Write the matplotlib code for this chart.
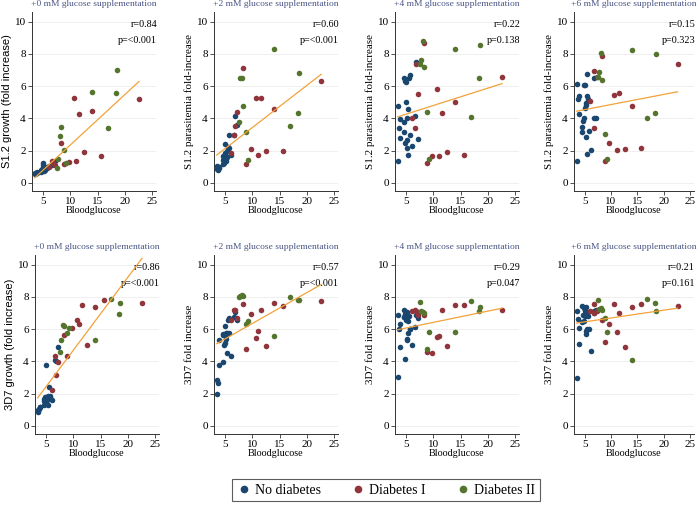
import numpy as np
import matplotlib
matplotlib.use('Agg')
import matplotlib.pyplot as plt
from matplotlib.lines import Line2D

plt.rcParams['font.family'] = 'Liberation Serif'

# blood glucose (mM) per participant, by group
bg_none = [3.5, 3.6, 3.75, 3.9, 4.0, 4.6, 4.6, 4.7, 4.8, 4.9, 5.1, 5.1,
           5.2, 5.2, 5.25, 5.4, 5.4, 5.5, 5.7, 5.8, 6.2, 6.7, 6.8, 7.2]
bg_t1 = [6.1, 6.7, 6.8, 7.3, 8.3, 8.8, 9.7, 10.6, 11.1, 11.6, 12.6, 14.0, 15.6, 22.6]
bg_t2 = [7.5, 7.8, 8.2, 8.3, 8.8, 9.3, 13.9, 16.9, 18.3, 18.6]

# S1.2 fold increase, +0/+2/+4/+6 mM
s12_none = [
    [0.55, 0.6, 0.6, 0.62, 0.65, 0.7, 0.75, 0.8, 0.85, 0.8, 1.25, 1.1, 0.9, 0.75, 0.95, 0.8, 0.85, 0.9, 0.95, 1.0, 1.05, 1.1, 1.3, 1.35],
    [0.85, 1.05, 0.8, 0.9, 1.0, 1.15, 1.4, 1.65, 1.55, 1.25, 2.4, 1.85, 1.5, 1.65, 1.35, 2.0, 1.6, 2.25, 2.95, 2.15, 1.75, 3.0, 4.15, 3.6],
    [4.8, 1.37, 3.4, 3.95, 2.8, 3.8, 3.15, 6.5, 6.3, 2.45, 6.25, 5.0, 4.0, 2.15, 2.65, 1.75, 4.6, 6.5, 6.7, 3.0, 2.3, 4.15, 7.5, 2.75],
    [6.15, 1.35, 5.2, 4.3, 5.4, 3.15, 3.45, 3.85, 4.05, 6.05, 6.1, 4.65, 4.85, 4.95, 2.85, 5.4, 1.8, 6.75, 5.2, 3.2, 2.05, 4.0, 6.5, 4.0],
]
s12_t1 = [
    [1.0, 1.35, 1.25, 1.1, 2.5, 1.15, 1.3, 5.25, 1.35, 4.3, 1.9, 4.45, 1.65, 5.2],
    [1.85, 2.95, 3.5, 4.4, 7.15, 1.2, 2.1, 5.25, 1.75, 5.25, 1.95, 4.6, 2.0, 6.3],
    [4.05, 3.4, 7.35, 5.5, 8.7, 1.25, 1.65, 5.85, 1.65, 4.35, 1.9, 5.05, 1.75, 6.55],
    [5.1, 3.4, 6.95, 6.6, 7.9, 1.35, 2.45, 5.45, 2.05, 5.6, 2.1, 4.8, 2.15, 7.4],
]
s12_t2 = [
    [0.95, 1.5, 2.9, 3.45, 2.05, 1.25, 5.65, 3.4, 5.55, 7.0],
    [3.75, 6.5, 6.5, 4.8, 3.15, 1.4, 8.3, 3.5, 4.35, 6.8],
    [7.35, 7.65, 8.8, 7.2, 4.4, 1.5, 8.3, 4.1, 6.5, 8.55],
    [6.6, 6.85, 8.05, 6.4, 3.05, 1.5, 8.25, 4.0, 4.35, 8.0],
]

# 3D7 fold increase, +0/+2/+4/+6 mM
d37_none = [
    [1.0, 0.85, 1.05, 1.2, 1.15, 1.3, 1.55, 1.65, 1.5, 1.8, 3.75, 1.4, 1.7, 1.6, 1.75, 1.3, 1.85, 2.4, 1.85, 1.8, 1.6, 4.1, 4.05, 4.9],
    [2.85, 2.0, 2.65, 3.8, 5.3, 3.95, 5.65, 5.7, 5.65, 5.0, 6.2, 5.15, 5.6, 5.4, 5.75, 4.5, 5.75, 6.6, 6.7, 5.75, 4.35, 6.75, 7.05, 6.6],
    [3.05, 6.9, 6.0, 6.3, 4.9, 7.2, 6.75, 6.75, 4.15, 6.95, 6.6, 6.9, 5.4, 7.05, 5.3, 5.75, 6.5, 6.8, 6.0, 6.0, 5.0, 6.15, 6.85, 6.7],
    [3.0, 7.15, 6.65, 6.05, 5.1, 7.45, 6.45, 6.85, 7.3, 6.5, 7.1, 6.8, 5.9, 7.35, 5.7, 7.05, 6.9, 6.0, 6.8, 6.0, 4.65, 7.1, 7.0, 7.2],
]
d37_t1 = [
    [2.25, 4.35, 3.15, 3.95, 5.65, 4.35, 6.05, 6.6, 6.3, 7.5, 5.05, 7.35, 7.8, 7.6],
    [6.6, 7.2, 7.2, 6.7, 7.55, 4.75, 6.95, 5.45, 5.9, 7.2, 4.95, 7.65, 7.45, 7.75],
    [7.1, 7.2, 7.1, 6.9, 6.85, 4.6, 4.5, 5.5, 5.6, 7.2, 4.95, 7.5, 7.5, 7.2],
    [7.15, 7.55, 7.0, 7.1, 6.6, 5.2, 6.3, 7.55, 5.85, 7.0, 4.9, 7.35, 7.55, 7.45],
]
d37_t2 = [
    [4.6, 5.3, 6.25, 6.2, 5.75, 6.1, 5.3, 7.85, 6.95, 7.6],
    [8.0, 8.05, 8.1, 8.05, 6.35, 6.5, 5.6, 8.0, 7.8, 7.8],
    [7.7, 7.15, 7.05, 7.0, 4.75, 5.85, 5.8, 7.75, 7.1, 7.35],
    [7.8, 7.25, 7.3, 7.2, 6.7, 5.8, 4.1, 7.85, 7.6, 7.15],
]

# fitted lines (intercept, slope) and stats as printed
s12_fit = [(-0.78, 0.313), (0.81, 0.262), (3.72, 0.108), (4.23, 0.063)]
d37_fit = [(0.16, 0.453), (4.43, 0.192), (5.72, 0.070), (6.21, 0.0485)]
s12_r = ['r=0.84', 'r=0.60', 'r=0.22', 'r=0.15']
s12_p = ['p=<0.001', 'p=<0.001', 'p=0.138', 'p=0.323']
d37_r = ['r=0.86', 'r=0.57', 'r=0.29', 'r=0.21']
d37_p = ['p=<0.001', 'p=<0.001', 'p=0.047', 'p=0.161']
titles = ['+0 mM glucose supplementation', '+2 mM glucose supplementation',
          '+4 mM glucose supplementation', '+6 mM glucose supplementation']
s12_ylab = ['S1.2 growth (fold increase)'] + ['S1.2 parasitemia fold-increase'] * 3
d37_ylab = ['3D7 growth (fold increase)'] + ['3D7 fold increase'] * 3

navy = '#1a476f'
maroon = '#90353b'
green = '#55752f'
orange = '#f2a23a'

W, H = 700, 505
fig = plt.figure(figsize=(7, 5.05), dpi=100)

lefts_top = [32, 214, 395, 574]
lefts_bot = [35, 214, 395, 574]
widths = [124, 124, 124, 120]


def panel(left, width, bottom_px, yn, y1, y2, fit, rtxt, ptxt, title, ylab, sans):
    ax = fig.add_axes([left / W, (H - bottom_px) / H, width / W, 179 / H])
    ax.scatter(bg_none, yn, s=16, color=navy, linewidths=0, zorder=3)
    ax.scatter(bg_t1, y1, s=16, color=maroon, linewidths=0, zorder=3)
    ax.scatter(bg_t2, y2, s=16, color=green, linewidths=0, zorder=3)
    xx = np.array([min(bg_none), max(bg_t1)])
    ax.plot(xx, fit[0] + fit[1] * xx, color=orange, lw=0.9, zorder=4)
    ax.set_xlim(3, 25.7)
    ax.set_ylim(-0.5, 10.6)
    ax.set_xticks([5, 10, 15, 20, 25])
    ax.set_yticks([0, 2, 4, 6, 8, 10])
    ax.yaxis.grid(True, color='#ececec', lw=0.6)
    ax.set_axisbelow(True)
    for s in ['top', 'right']:
        ax.spines[s].set_visible(False)
    for s in ['left', 'bottom']:
        ax.spines[s].set_color('#333333')
        ax.spines[s].set_linewidth(0.7)
    ax.tick_params(labelsize=8, length=3, width=0.6, color='#333333', pad=1.5)
    ax.set_xlabel('Bloodglucose', fontsize=7.3, labelpad=0)
    if sans:
        ax.set_ylabel(ylab, fontsize=8, family='Liberation Sans', labelpad=2)
    else:
        ax.set_ylabel(ylab, fontsize=8, labelpad=2)
    ax.set_title(title, fontsize=6.8, color='#4a5585', pad=4)
    ax.text(1.01, 9.85, rtxt, transform=ax.get_yaxis_transform(),
            ha='right', va='center', fontsize=7.3)
    ax.text(1.01, 8.85, ptxt, transform=ax.get_yaxis_transform(),
            ha='right', va='center', fontsize=7.3)
    return ax


for i in range(4):
    panel(lefts_top[i], widths[i], 191, s12_none[i], s12_t1[i], s12_t2[i], s12_fit[i],
          s12_r[i], s12_p[i], titles[i], s12_ylab[i], i == 0)
    panel(lefts_bot[i], widths[i], 434, d37_none[i], d37_t1[i], d37_t2[i], d37_fit[i],
          d37_r[i], d37_p[i], titles[i], d37_ylab[i], i == 0)

handles = [Line2D([], [], ls='', marker='o', ms=4.5, color=c) for c in (navy, maroon, green)]
leg = fig.legend(handles, ['No diabetes', 'Diabetes I', 'Diabetes II'],
                 loc='center', bbox_to_anchor=(386 / W, 1 - 490 / H), ncol=3,
                 fontsize=10, frameon=True, fancybox=False, handletextpad=0.3,
                 columnspacing=2.2, borderpad=0.35, handlelength=1.0)
leg.get_frame().set_edgecolor('#333333')
leg.get_frame().set_linewidth(0.8)

fig.savefig('out.png', dpi=100)
